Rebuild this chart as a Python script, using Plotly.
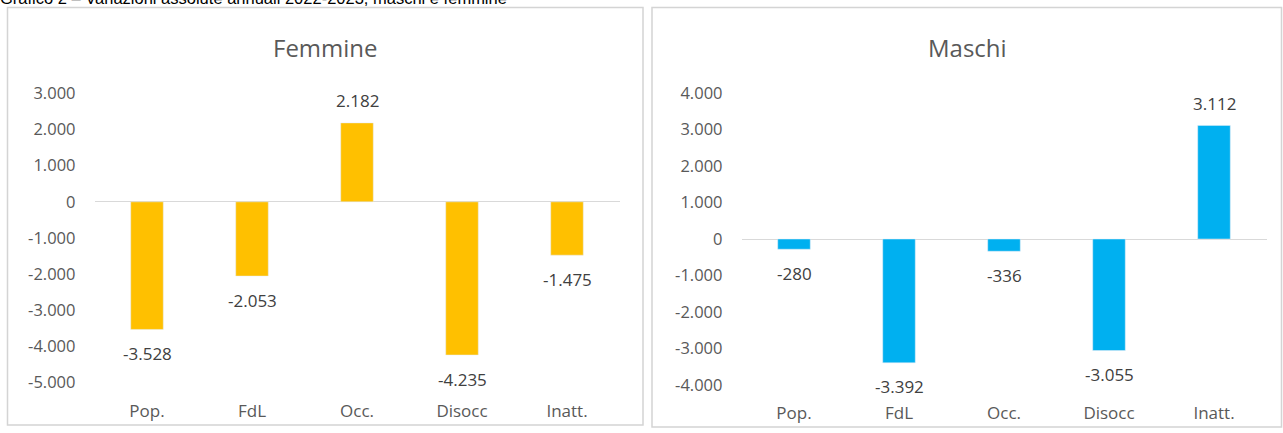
import plotly.graph_objects as go

# Categorie e variazioni assolute annuali 2022-2023
categorie = ["Pop.", "FdL", "Occ.", "Disocc", "Inatt."]
femmine = [-3528, -2053, 2182, -4235, -1475]
maschi = [-280, -3392, -336, -3055, 3112]

tick_femmine = [3000, 2000, 1000, 0, -1000, -2000, -3000, -4000, -5000]
tick_maschi = [4000, 3000, 2000, 1000, 0, -1000, -2000, -3000, -4000]

titolo = "Grafico 2 \u2013 Variazioni assolute annuali 2022-2023, maschi e femmine"

W, H = 1283, 433
FONT = "Open Sans"
GRIGIO = "#595959"


def fmt(v):
    s = f"{abs(v):,}".replace(",", ".")
    return ("-" if v < 0 else "") + s


def px_x(a, b):
    return [a / W, b / W]


def px_y(top, bottom):
    return [(H - bottom) / H, (H - top) / H]


fig = go.Figure()

fig.add_trace(go.Bar(x=categorie, y=femmine, marker_color="#FFC000",
                     width=0.31, xaxis="x", yaxis="y", hoverinfo="x+y"))
fig.add_trace(go.Bar(x=categorie, y=maschi, marker_color="#00B0F0",
                     width=0.31, xaxis="x2", yaxis="y2", hoverinfo="x+y"))

annotations = []
for xa, ya, valori in (("x", "y", femmine), ("x2", "y2", maschi)):
    for c, v in zip(categorie, valori):
        annotations.append(dict(
            x=c, y=v, xref=xa, yref=ya, text=fmt(v), showarrow=False,
            xanchor="center", yanchor="middle", yshift=22 if v > 0 else -24,
            font=dict(family=FONT, size=17, color="#404040")))

# Titoli dei due pannelli
annotations.append(dict(x=325 / W, y=(H - 47) / H, xref="paper", yref="paper",
                        text="Femmine", showarrow=False, xanchor="center",
                        yanchor="middle",
                        font=dict(family=FONT, size=24, color=GRIGIO)))
annotations.append(dict(x=967 / W, y=(H - 47) / H, xref="paper", yref="paper",
                        text="Maschi", showarrow=False, xanchor="center",
                        yanchor="middle",
                        font=dict(family=FONT, size=24, color=GRIGIO)))

# Titolo del grafico, in alto a sinistra (tagliato dal bordo superiore)
annotations.append(dict(x=0, y=1, xref="paper", yref="paper", text=titolo,
                        showarrow=False, xanchor="left", yanchor="bottom",
                        yshift=-9, xshift=-2,
                        font=dict(family="Liberation Sans", size=16.5, color="#000000")))

shapes = [
    dict(type="rect", xref="paper", yref="paper",
         x0=7.5 / W, x1=643 / W, y0=(H - 425) / H, y1=(H - 7.5) / H,
         line=dict(color="#d4d4d4", width=1.5)),
    dict(type="rect", xref="paper", yref="paper",
         x0=652 / W, x1=1281.5 / W, y0=(H - 427) / H, y1=(H - 7.5) / H,
         line=dict(color="#d4d4d4", width=1.5)),
]

asse_x = dict(showgrid=False, zeroline=False, showline=False, ticks="",
              automargin=False, ticklabelstandoff=16,
              tickfont=dict(family=FONT, size=17, color=GRIGIO), fixedrange=True)
asse_y = dict(showgrid=False, zeroline=True, zerolinecolor="#d9d9d9",
              zerolinewidth=1, showline=False, ticks="", automargin=False,
              ticklabelstandoff=18,
              tickfont=dict(family=FONT, size=16.5, color=GRIGIO), fixedrange=True)

fig.update_layout(
    width=W, height=H,
    margin=dict(l=0, r=0, t=0, b=0, pad=0, autoexpand=False),
    paper_bgcolor="white", plot_bgcolor="white",
    showlegend=False,
    xaxis=dict(asse_x, domain=px_x(94.5, 619.5), anchor="y"),
    yaxis=dict(asse_y, domain=px_y(93.3, 382.7), anchor="x",
               range=[-5000, 3000], tickvals=tick_femmine,
               ticktext=[fmt(v) for v in tick_femmine]),
    xaxis2=dict(asse_x, domain=px_x(741.5, 1266.5), anchor="y2"),
    yaxis2=dict(asse_y, domain=px_y(93, 385), anchor="x2",
                range=[-4000, 4000], tickvals=tick_maschi,
                ticktext=[fmt(v) for v in tick_maschi]),
    annotations=annotations,
    shapes=shapes,
)

fig.write_html("out.html")
